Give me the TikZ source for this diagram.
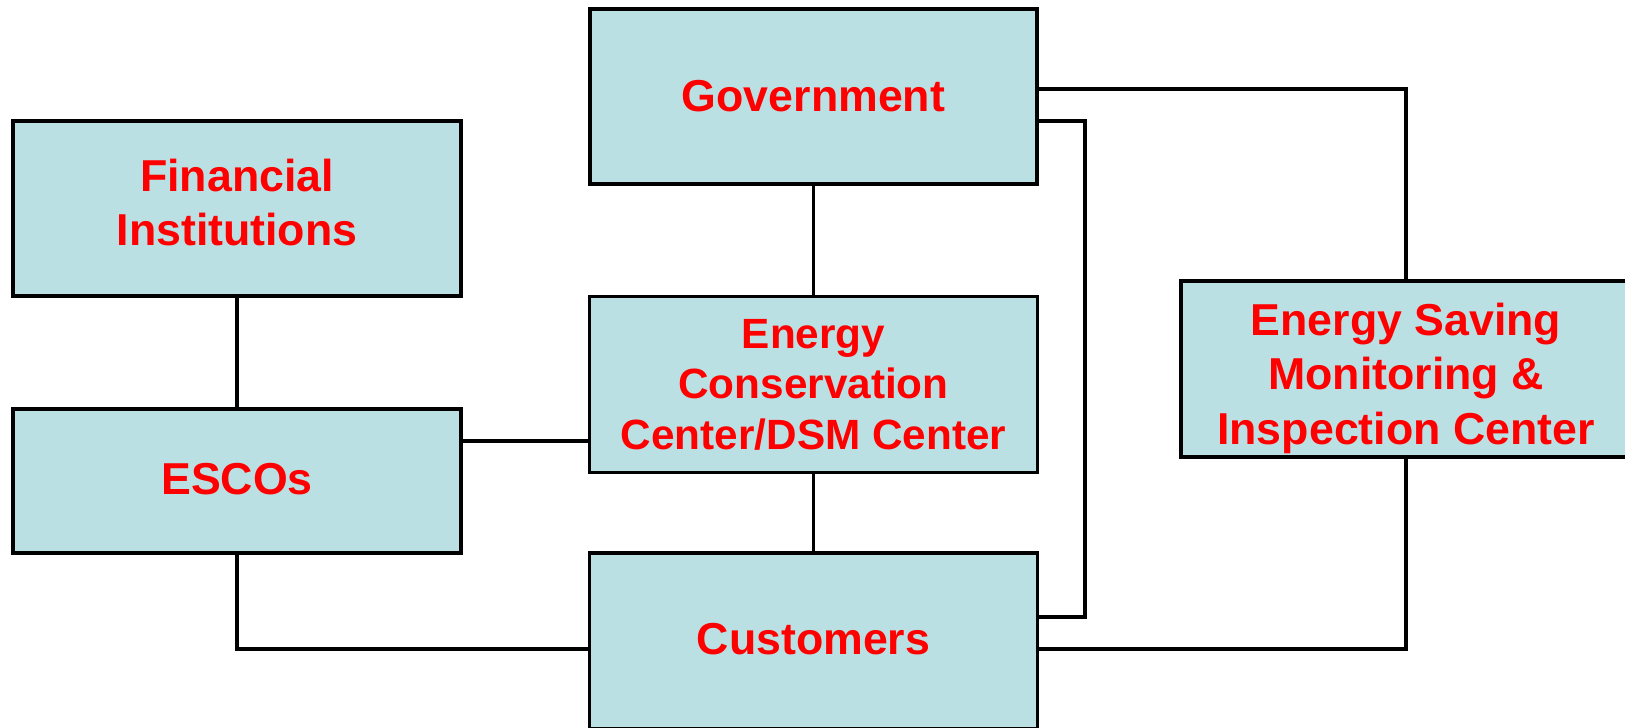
\documentclass[tikz,border=0pt]{standalone}
\usepackage{fontspec}
\setmainfont{Liberation Sans}
\definecolor{boxfill}{RGB}{187,224,227}
\definecolor{boxtext}{RGB}{255,0,0}
\begin{document}
\begin{tikzpicture}[x=1pt,y=-1pt,
  box/.style={draw=black, line width=3.4pt, fill=boxfill, text=boxtext,
    font=\fontsize{44.7}{54.5}\selectfont\bfseries, align=center,
    inner sep=0pt, outer sep=0pt},
  boxlabel/.style={text=boxtext, font=\fontsize{44.7}{54.5}\selectfont\bfseries,
    align=center, inner sep=0pt, outer sep=0pt},
  smallbox/.style={box, font=\fontsize{42.3}{50.5}\selectfont\bfseries},
  link/.style={line width=3.2pt, line cap=rect}]
\useasboundingbox (0,0) rectangle (1625,728);
\clip (0,0) rectangle (1625,728);
\node[box, minimum width=447pt, minimum height=175pt] (gov) at (813.5,96.5) {Government};
\node[box, minimum width=448pt, minimum height=175pt,
  label={[boxlabel, name=fintext, yshift=6pt]center:{Financial\\Institutions}}] (fin) at (237,208.5) {};
\node[box, minimum width=448pt, minimum height=144pt, text depth=4pt] (esco) at (237,481) {ESCOs};
\node[smallbox, minimum width=448pt, minimum height=176pt] (ecc) at (813.5,384.5) {Energy\\Conservation\\Center/DSM Center};
\node[box, minimum width=448pt, minimum height=176pt, text depth=4pt] (cust) at (813.5,641) {Customers};
\node[box, minimum width=450pt, minimum height=176pt,
  label={[boxlabel, name=esmictext, yshift=-9pt]center:{Energy Saving\\Monitoring \&\\Inspection Center}}] (esmic) at (1406,369) {};
\draw[link] ([yshift=7.5pt]gov.east) -| (esmic.north);
\draw[link] ([yshift=-24.5pt]gov.east) -- ++(48pt,0) |- ([yshift=24pt]cust.east);
\draw[link] (gov.south) -- (ecc.north);
\draw[link] (ecc.south) -- (cust.north);
\draw[link] (fin.south) -- (esco.north);
\draw[link] ([yshift=40pt]esco.east) -- ([yshift=-56.5pt]ecc.west);
\draw[link] (esco.south) |- ([yshift=-8pt]cust.west);
\draw[link] ([yshift=-8pt]cust.east) -| (esmic.south);
\end{tikzpicture}
\end{document}
